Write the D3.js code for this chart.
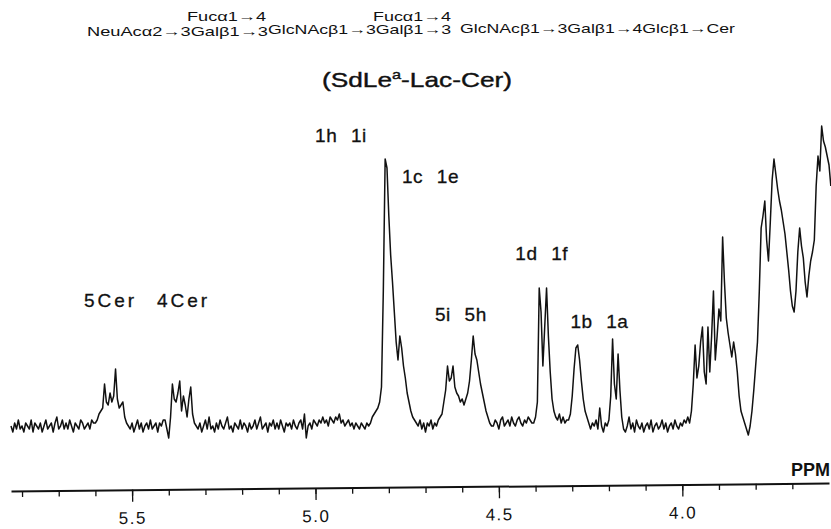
<!DOCTYPE html>
<html>
<head>
<meta charset="utf-8">
<script src="https://cdn.jsdelivr.net/npm/d3@7"></script>
<style>
  body { margin: 0; background: #fff; }
  text { font-family: "Liberation Sans", Arial, sans-serif; fill: #111; }
</style>
</head>
<body>
<div id="chart"></div>
<script>
const width = 831;
const height = 529;

const ppmStart = 5.83;
const ppmStep = 0.005;
const intensity = [
  // baseline 5.83 - 5.61
  0,-2,1,-1,2,-1,0,-2,1,0,-1,2,-2,1,0,-1,1,-2,0,2,-1,0,1,-2,1,3,-1,0,2,-1,1,-1,2,0,-2,1,0,-1,2,1,-1,0,1,-1,2,1,
  // 5Cer
  1,2,4,5,6,14,8,7,11,8,10,19,9,6,7,8,3,1,0,
  -1,1,-2,0,2,-1,1,-2,0,1,-1,2,-1,0,1,-2,1,0,2,
  // 4Cer
  2,-1,-4,3,14,9,8,11,15,5,10,7,3,9,13,4,1,0,
  // baseline 5.32 - 4.86
  -1,1,-2,0,2,-1,3,-1,0,-2,1,-1,2,0,-1,1,3,-1,0,-2,1,0,-1,2,-1,1,0,-2,1,-1,
  0,2,-1,1,3,-1,0,1,-2,1,0,2,-1,1,-1,2,0,-2,1,0,1,-1,2,0,-1,1,2,-1,4,-4,
  0,1,-1,2,1,0,2,1,3,1,2,0,3,2,1,3,2,4,1,2,0,1,2,0,1,-1,1,0,-1,1,0,-1,1,
  // 1c 1e / 1h 1i
  0,1,3,4,5,6,8,13,45,89,86,70,57,48,38,28,22,30,26,20,16,11,8,5,3,2,1,
  0,2,-1,1,-2,1,0,2,-1,1,0,
  // 5i 5h
  2,3,4,8,12,20,15,16,20,13,11,10,8,9,7,9,11,15,22,30,24,22,18,14,11,8,5,3,1,0,
  0,2,1,-1,2,3,0,1,2,0,3,1,0,2,3,1,0,2,1,3,2,1,
  // 1d 1f
  1,3,8,46,38,20,33,46,30,18,9,5,3,
  2,4,1,3,1,2,
  // 1b
  2,4,10,19,26,27,22,15,9,5,3,1,
  -1,1,0,2,-1,6,0,-2,1,
  // 1a
  0,2,10,29,14,9,24,12,3,-1,
  -2,0,3,-1,1,-2,2,0,-1,1,-2,0,1,-1,2,-2,0,1,-1,0,2,-1,1,-2,0,1,-1,2,0,-1,1,0,2,1,3,
  // 3.98 - 3.60 ring protons
  1,5,14,27,16,20,28,33,18,14,
  33,18,30,45,22,30,39,35,63,48,
  36,31,27,23,28,24,18,10,5,3,
  1,-1,-3,0,5,12,20,28,45,66,
  70,75,62,55,68,82,89,84,79,75,
  72,68,64,58,52,45,40,38,45,58,
  66,60,56,48,43,50,55,58,62,80,
  90,85,100,95,93,90,87,80
];

const majorTicks = [5.5, 5.0, 4.5, 4.0];
const minorTicks = [5.8, 5.7, 5.6, 5.5, 5.4, 5.3, 5.2, 5.1, 5.0, 4.9, 4.8, 4.7, 4.6,
                    4.5, 4.4, 4.3, 4.2, 4.1, 4.0, 3.9, 3.8, 3.7];

// peak assignments: text, ppm where the label starts, intensity level of its baseline
const peakLabels = ["1h 1i", "1c 1e", "1d 1f", "5i 5h", "1b 1a", "5Cer", "4Cer"];
const labelPpm   = [5.001, 4.764, 4.455, 4.674, 4.305, 5.631, 5.432];
const labelLevel = [94.7, 81, 55.3, 35, 32.7, 39.7, 39.7];

const svg = d3.select("#chart")
  .append("svg")
  .attr("width", width)
  .attr("height", height);

const x = d3.scaleLinear()
  .domain([5.83, 3.6])
  .range([11, 829]);

const y = d3.scaleLinear()
  .domain([0, 100])
  .range([426, 126]);

// structure heading
const head = svg.append("g").style("font-size", "13.5px");
head.append("text").attr("x", 187).attr("y", 21).attr("textLength", 79)
  .attr("lengthAdjust", "spacingAndGlyphs").text("Fucα1→4");
head.append("text").attr("x", 373).attr("y", 21).attr("textLength", 78)
  .attr("lengthAdjust", "spacingAndGlyphs").text("Fucα1→4");
head.append("text").attr("x", 87).attr("y", 36).attr("textLength", 181)
  .attr("lengthAdjust", "spacingAndGlyphs").text("NeuAcα2→3Galβ1→3");
head.append("text").attr("x", 268).attr("y", 34).attr("textLength", 183)
  .attr("lengthAdjust", "spacingAndGlyphs").text("GlcNAcβ1→3Galβ1→3");
head.append("text").attr("x", 460).attr("y", 33).attr("textLength", 275)
  .attr("lengthAdjust", "spacingAndGlyphs").text("GlcNAcβ1→3Galβ1→4Glcβ1→Cer");

const name = svg.append("text")
  .attr("x", 322).attr("y", 87)
  .attr("textLength", 190)
  .attr("lengthAdjust", "spacingAndGlyphs")
  .style("font-size", "21px")
  .style("stroke", "#111")
  .style("stroke-width", 0.4);
name.append("tspan").text("(SdLe");
name.append("tspan").attr("dy", -8).style("font-size", "13px").text("a");
name.append("tspan").attr("dy", 8).text("-Lac-Cer)");

// spectrum trace
const line = d3.line()
  .x((d, i) => x(ppmStart - i * ppmStep))
  .y(d => y(d));

svg.append("path")
  .datum(intensity)
  .attr("fill", "none")
  .attr("stroke", "#111")
  .attr("stroke-width", 1.5)
  .attr("stroke-linejoin", "round")
  .attr("d", line);

// peak labels
svg.selectAll(".peak-label")
  .data(peakLabels)
  .enter()
  .append("text")
  .attr("class", "peak-label")
  .attr("x", (d, i) => x(labelPpm[i]))
  .attr("y", (d, i) => y(labelLevel[i]))
  .style("font-size", "19px")
  .style("letter-spacing", d => d.includes("Cer") ? "3px" : "0.5px")
  .style("word-spacing", "8px")
  .style("stroke", "#111")
  .style("stroke-width", 0.3)
  .text(d => d);

// ppm axis (the paper scale sits slightly askew)
const axisG = svg.append("g")
  .attr("transform", "translate(0,487) rotate(-0.56,420,0)");

const minorAxis = axisG.append("g")
  .call(d3.axisBottom(x).tickValues(minorTicks).tickSize(6).tickSizeOuter(0).tickFormat(""));
minorAxis.select(".domain").attr("stroke", "#111").attr("stroke-width", 2);
minorAxis.selectAll(".tick line").attr("stroke", "#111").attr("stroke-width", 1.3);

const majorAxis = axisG.append("g")
  .call(d3.axisBottom(x).tickValues(majorTicks).tickSize(12).tickSizeOuter(0)
    .tickFormat(d3.format(".1f")));
majorAxis.select(".domain").remove();
majorAxis.selectAll(".tick line").attr("stroke", "#111").attr("stroke-width", 1.3);
majorAxis.selectAll(".tick text")
  .attr("y", 22)
  .style("font-size", "17px")
  .style("letter-spacing", "1.5px")
  .style("font-family", "'Liberation Sans', Arial, sans-serif")
  .attr("fill", "#111");

svg.append("text")
  .attr("x", 830)
  .attr("y", 476)
  .attr("text-anchor", "end")
  .style("font-size", "18px")
  .style("font-weight", "bold")
  .text("PPM");
</script>
</body>
</html>
